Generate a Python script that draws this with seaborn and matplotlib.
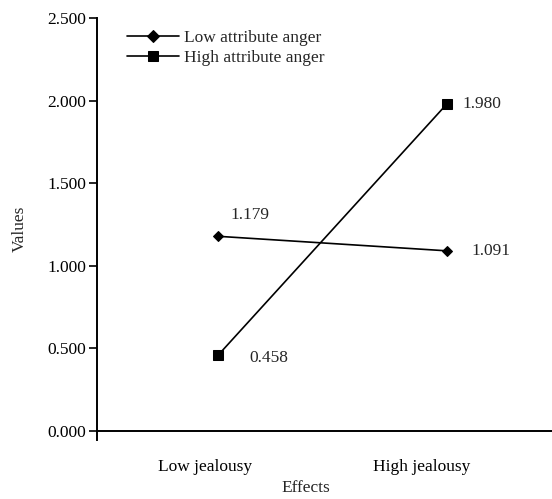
import pandas as pd
import matplotlib
matplotlib.use("Agg")
import matplotlib.pyplot as plt
import matplotlib.transforms as mtransforms
import seaborn as sns
from matplotlib.ticker import FormatStrFormatter

# Data
effects = ["Low jealousy", "High jealousy"]
low_anger = [1.179, 1.091]
high_anger = [0.458, 1.980]
series_names = ["Low attribute anger", "High attribute anger"]

df = pd.DataFrame({
    "Effects": effects * 2,
    "Values": low_anger + high_anger,
    "Group": [series_names[0]] * 2 + [series_names[1]] * 2,
})

sns.set_style("ticks")
plt.rcParams["font.family"] = ["Liberation Serif", "DejaVu Serif"]

fig = plt.figure(figsize=(5.52, 4.99), dpi=100)
ax = fig.add_axes([0.1757, 0.1182, 0.8243, 0.8457])

sns.lineplot(
    data=df, x="Effects", y="Values", hue="Group", style="Group",
    markers={series_names[0]: "D", series_names[1]: "s"}, dashes=False,
    palette=["black", "black"], linewidth=1.2, ax=ax,
    markersize=6.5, markeredgecolor="black",
)
# diamond slightly smaller
for line, ms in zip(ax.lines[:2], [5.0, 6.5]):
    line.set_markersize(ms)

# value labels
offsets = {(0, 0): (9, 15), (0, 1): (18, 0), (1, 0): (23, -2), (1, 1): (11, 0)}
for s, vals in enumerate([low_anger, high_anger]):
    for i, v in enumerate(vals):
        ax.annotate(f"{v:.3f}", xy=(i, v), xytext=offsets[(s, i)],
                    textcoords="offset points", fontsize=12.5,
                    ha="left", va="center")

ax.set_xlim(-0.528, 1.459)
ax.set_ylim(-0.054, 2.5)
ax.set_yticks([0, 0.5, 1.0, 1.5, 2.0, 2.5])
ax.yaxis.set_major_formatter(FormatStrFormatter("%.3f"))
ax.spines["top"].set_visible(False)
ax.spines["right"].set_visible(False)
ax.spines["bottom"].set_position(("data", 0))
for sp in ["left", "bottom"]:
    ax.spines[sp].set_linewidth(1.4)
    ax.spines[sp].set_color("black")
ax.tick_params(axis="y", direction="out", length=6, width=1.2,
               labelsize=12.5, colors="black", pad=2)
ax.tick_params(axis="x", length=0, labelsize=12.5, colors="black", pad=20)

# category labels sit a little left of the points in the original
for lab, dx in zip(ax.get_xticklabels(), [-13, -25]):
    lab.set_transform(lab.get_transform() +
                      mtransforms.ScaledTranslation(dx / 100, 0, fig.dpi_scale_trans))

ax.set_xlabel("Effects", fontsize=12.5)
ax.xaxis.set_label_coords(0.459, -0.094)
ax.set_ylabel("Values", fontsize=12.5, labelpad=14)

handles, labels = ax.get_legend_handles_labels()
ax.legend(handles, labels, loc="upper left", bbox_to_anchor=(0.04, 1.0),
          frameon=False, fontsize=12.5, handlelength=2.95, handletextpad=0.3,
          labelspacing=0.2, borderaxespad=0.3)

fig.savefig("out.png", dpi=100)
